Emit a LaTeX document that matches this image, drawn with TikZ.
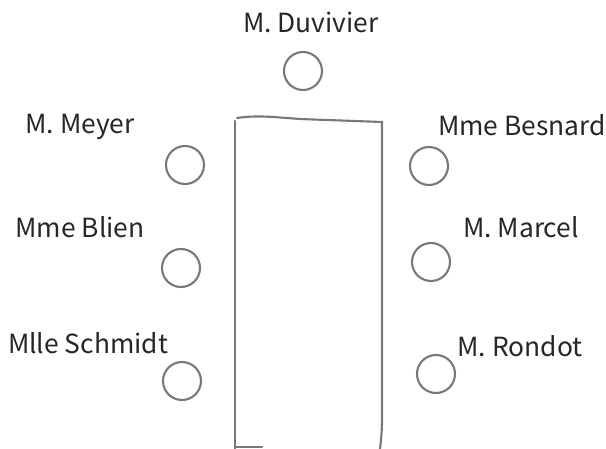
\documentclass[tikz,border=0pt]{standalone}
\usepackage{fontspec}
\setmainfont{Noto Sans CJK JP}
\tikzset{
  seat/.style={circle,draw=pencil,line width=1.2pt,minimum size=0.76cm,inner sep=0pt},
  guest/.style={font=\fontsize{15}{18}\selectfont,text=black!85},
  tableline/.style={draw=pencil,line width=1.2pt,line cap=round}
}
\definecolor{pencil}{RGB}{120,120,124}

\begin{document}
\begin{tikzpicture}[x=0.02cm,y=-0.02cm]
  \useasboundingbox (0,0) rectangle (606,449);

  % table
  \draw[tableline] (235,449) -- (235,121);
  \draw[tableline] (237,118) .. controls (258,115) and (272,117) .. (300,119) -- (382,122) -- (382,420) .. controls (382,432) and (381,440) .. (380,449);
  \draw[tableline] (236,447) -- (262,447);

  % seats
  \node[seat] (duvivier) at (303,71) {};
  \node[seat] (meyer) at (185,165) {};
  \node[seat] (besnard) at (429,166) {};
  \node[seat] (blien) at (181,268) {};
  \node[seat] (marcel) at (431,262) {};
  \node[seat] (schmidt) at (182,381) {};
  \node[seat] (rondot) at (436,374) {};

  % names
  \node[guest] (nduvivier) at (311,22) {M. Duvivier};
  \node[guest] (nmeyer) at (80,127) {M. Meyer};
  \node[guest] (nbesnard) at (522,125) {Mme Besnard};
  \node[guest] (nblien) at (80,227) {Mme Blien};
  \node[guest] (nmarcel) at (521,227) {M. Marcel};
  \node[guest] (nschmidt) at (88,343) {Mlle Schmidt};
  \node[guest] (nrondot) at (520,346) {M. Rondot};
\end{tikzpicture}
\end{document}
